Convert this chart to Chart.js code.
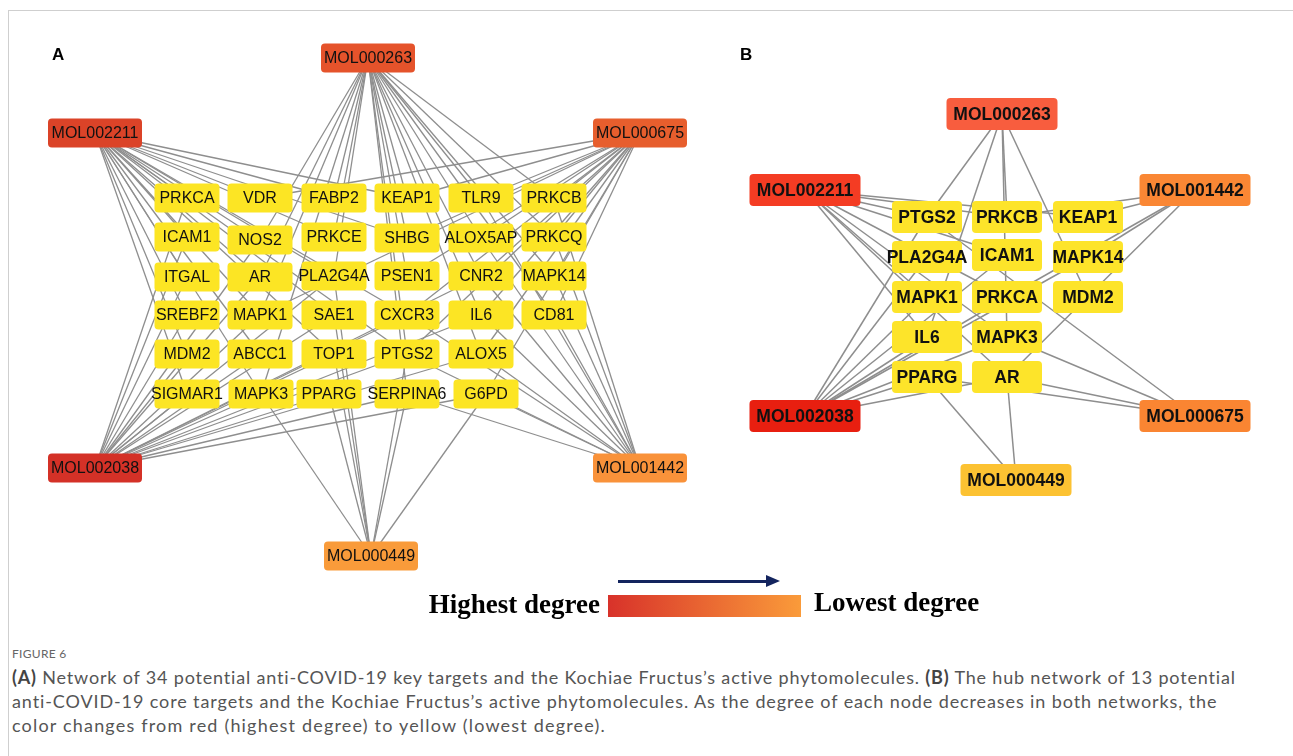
<!DOCTYPE html>
<html>
<head>
<meta charset="utf-8">
<script src="https://cdn.jsdelivr.net/npm/chart.js@4.4.0/dist/chart.umd.min.js"></script>
<style>
    body { margin: 0; background: #fff; width: 1293px; height: 756px; overflow: hidden; position: relative; font-family: "Open Sans", sans-serif; }
    #frame { position: absolute; left: 8px; top: 10px; width: 1300px; height: 760px; border-left: 1px solid #cfcfcf; border-top: 1px solid #cfcfcf; }
    #wrap { position: absolute; left: 0; top: 0; width: 1293px; height: 640px; }
    .panel { position: absolute; font: bold 17px "Liberation Sans", Arial, sans-serif; color: #000; }
    .deg { position: absolute; font: bold 27px "Liberation Serif", "Times New Roman", serif; color: #000; white-space: nowrap; }
    #bar { position: absolute; left: 608px; top: 595px; width: 193px; height: 22px; background: linear-gradient(to right, #d8322a, #fa9b3a); }
    #arrow { position: absolute; left: 618px; top: 580px; width: 150px; height: 3px; background: #13245e; }
    #arrowHead { position: absolute; left: 766px; top: 575px; width: 0; height: 0; border-top: 6.5px solid transparent; border-bottom: 6.5px solid transparent; border-left: 14px solid #13245e; }
    #figLabel { position: absolute; left: 12px; top: 646px; font: 12px Lato, sans-serif; color: #666; letter-spacing: 0.3px; }
    .cap { position: absolute; left: 12px; font: 18px Lato, sans-serif; color: #555; white-space: nowrap; }
    .cap b { color: #444; }
</style>
</head>
<body>
<div id="frame"></div>
<div id="wrap"><canvas id="net"></canvas></div>
<div class="panel" style="left:52px;top:45px;">A</div>
<div class="panel" style="left:740px;top:45px;">B</div>
<div id="arrow"></div><div id="arrowHead"></div>
<div class="deg" style="right:693px;top:589px;">Highest degree</div>
<div id="bar"></div>
<div class="deg" style="left:814px;top:587px;">Lowest degree</div>
<div id="figLabel">FIGURE 6</div>
<div class="cap" data-w="1225" style="top:666px;"><b>(A)</b> Network of 34 potential anti-COVID-19 key targets and the Kochiae Fructus’s active phytomolecules. <b>(B)</b> The hub network of 13 potential</div>
<div class="cap" data-w="1206" style="top:690px;">anti-COVID-19 core targets and the Kochiae Fructus’s active phytomolecules. As the degree of each node decreases in both networks, the</div>
<div class="cap" data-w="594" style="top:714px;">color changes from red (highest degree) to yellow (lowest degree).</div>
<script>
// network A: compounds (hubs) and their targets
const hubsA = ['MOL000263', 'MOL002211', 'MOL000675', 'MOL002038', 'MOL001442', 'MOL000449'];
const hubXA = [368, 95, 640, 95, 640, 371];
const hubYA = [58, 133, 133, 468, 468, 556];
const hubColorA = ['#e5532b', '#db4328', '#e75e2d', '#d43127', '#f9923a', '#f99b3a'];

const targetsA = [
    'PRKCA', 'VDR', 'FABP2', 'KEAP1', 'TLR9', 'PRKCB',
    'ICAM1', 'NOS2', 'PRKCE', 'SHBG', 'ALOX5AP', 'PRKCQ',
    'ITGAL', 'AR', 'PLA2G4A', 'PSEN1', 'CNR2', 'MAPK14',
    'SREBF2', 'MAPK1', 'SAE1', 'CXCR3', 'IL6', 'CD81',
    'MDM2', 'ABCC1', 'TOP1', 'PTGS2', 'ALOX5',
    'SIGMAR1', 'MAPK3', 'PPARG', 'SERPINA6', 'G6PD'
];
const targetXA = [
    187, 260, 334, 407, 481, 554,
    187, 260, 334, 407, 481, 554,
    187, 260, 334, 407, 481, 554,
    187, 260, 334, 407, 481, 554,
    187, 260, 334, 407, 481,
    187, 261, 329, 407, 486
];
const targetYA = [
    198, 198, 198, 198, 198, 198,
    237, 240, 237, 238, 238, 237,
    277, 277, 276, 276, 276, 276,
    315, 315, 315, 315, 315, 315,
    354, 354, 354, 354, 354,
    394, 394, 394, 394, 394
];
const linksA = [
    ['NOS2', 'AR', 'PLA2G4A', 'FABP2', 'PRKCE', 'SHBG', 'PSEN1', 'KEAP1', 'TLR9', 'ALOX5AP', 'CNR2', 'IL6', 'PRKCB', 'PRKCQ', 'MAPK14', 'CD81', 'ALOX5', 'MAPK1', 'PTGS2', 'SERPINA6', 'MAPK3'],
    ['PRKCA', 'VDR', 'FABP2', 'KEAP1', 'ICAM1', 'NOS2', 'PRKCE', 'SHBG', 'ITGAL', 'AR', 'PLA2G4A', 'SREBF2', 'MAPK1', 'SAE1', 'CXCR3', 'MDM2', 'ABCC1', 'PTGS2', 'SIGMAR1', 'MAPK3', 'TOP1'],
    ['VDR', 'KEAP1', 'TLR9', 'PRKCB', 'ALOX5AP', 'PRKCQ', 'CNR2', 'MAPK14', 'IL6', 'CD81', 'PSEN1', 'SHBG', 'ALOX5', 'PTGS2', 'MAPK1', 'CXCR3', 'G6PD'],
    ['SIGMAR1', 'MAPK3', 'PPARG', 'SERPINA6', 'G6PD', 'MDM2', 'ABCC1', 'TOP1', 'PTGS2', 'ALOX5', 'SREBF2', 'MAPK1', 'SAE1', 'CXCR3', 'IL6', 'ITGAL', 'AR', 'ICAM1', 'PRKCA', 'NOS2', 'PLA2G4A', 'CNR2'],
    ['SERPINA6', 'G6PD', 'ALOX5', 'CD81', 'IL6', 'MAPK14', 'PRKCQ', 'PRKCB', 'CNR2', 'PTGS2', 'CXCR3', 'ALOX5AP', 'TLR9'],
    ['MAPK3', 'PPARG', 'TOP1', 'SAE1', 'PLA2G4A', 'SERPINA6', 'PTGS2', 'G6PD']
];

// network B: hub network of 13 core targets
const hubsB = ['MOL000263', 'MOL002211', 'MOL001442', 'MOL002038', 'MOL000675', 'MOL000449'];
const hubXB = [1002, 805, 1195, 805, 1195, 1016];
const hubYB = [114, 190, 190, 416, 416, 480];
const hubColorB = ['#f85d3e', '#f43c23', '#fa8734', '#e81f10', '#fa8532', '#fcc232'];

const targetsB = ['PTGS2', 'PRKCB', 'KEAP1', 'PLA2G4A', 'ICAM1', 'MAPK14', 'MAPK1', 'PRKCA', 'MDM2', 'IL6', 'MAPK3', 'PPARG', 'AR'];
const targetXB = [927, 1007, 1088, 927, 1007, 1088, 927, 1007, 1088, 927, 1007, 927, 1007];
const targetYB = [217, 217, 217, 257, 255, 257, 297, 297, 297, 337, 337, 377, 377];
const linksB = [
    ['PTGS2', 'IL6', 'PRKCB', 'MDM2', 'MAPK3'],
    ['PRKCB', 'PTGS2', 'ICAM1', 'KEAP1', 'MAPK1', 'PRKCA', 'IL6', 'MAPK3', 'AR'],
    ['KEAP1', 'PRKCA', 'MAPK14', 'AR', 'PRKCB'],
    ['PTGS2', 'PLA2G4A', 'ICAM1', 'MAPK1', 'PRKCA', 'IL6', 'MAPK3', 'PPARG', 'AR', 'MAPK14'],
    ['PTGS2', 'MAPK3', 'AR', 'PPARG'],
    ['AR', 'PPARG']
];

function edgeSets(hubs, hx, hy, targets, tx, ty, links, width) {
    const sets = [];
    hubs.forEach((h, i) => {
        links[i].forEach(t => {
            const j = targets.indexOf(t);
            sets.push({
                type: 'line',
                data: [{ x: hx[i], y: hy[i] }, { x: tx[j], y: ty[j] }],
                borderColor: '#8e8e8e',
                borderWidth: width,
                pointRadius: 0,
                tension: 0
            });
        });
    });
    return sets;
}

function nodeSet(names, xs, ys, kind, colors) {
    return {
        type: 'scatter',
        data: names.map((n, i) => ({ x: xs[i], y: ys[i] })),
        labels: names,
        kind: kind,
        colors: colors,
        pointRadius: 0
    };
}

const datasets = [
    ...edgeSets(hubsA, hubXA, hubYA, targetsA, targetXA, targetYA, linksA, 1.3),
    ...edgeSets(hubsB, hubXB, hubYB, targetsB, targetXB, targetYB, linksB, 1.5),
    nodeSet(targetsA, targetXA, targetYA, 'geneA', null),
    nodeSet(hubsA, hubXA, hubYA, 'molA', hubColorA),
    nodeSet(targetsB, targetXB, targetYB, 'geneB', null),
    nodeSet(hubsB, hubXB, hubYB, 'molB', hubColorB)
];

const boxStyle = {
    geneA: { w: 65, h: 29, font: '16px "Liberation Sans", Arial, sans-serif', fill: '#fce524' },
    molA: { w: 94, h: 29, font: '16px "Liberation Sans", Arial, sans-serif' },
    geneB: { w: 70, h: 32, font: 'bold 17.5px "Liberation Sans", Arial, sans-serif', fill: '#fde42a' },
    molB: { w: 111, h: 32, font: 'bold 17.5px "Liberation Sans", Arial, sans-serif' }
};

// rounded boxes with labels on top of the node points
const nodeBoxes = {
    id: 'nodeBoxes',
    afterDatasetsDraw(chart) {
        const ctx = chart.ctx;
        chart.data.datasets.forEach((ds, di) => {
            if (!ds.kind) return;
            const st = boxStyle[ds.kind];
            const meta = chart.getDatasetMeta(di);
            meta.data.forEach((pt, i) => {
                const label = ds.labels[i];
                ctx.save();
                ctx.font = st.font;
                const tw = ctx.measureText(label).width;
                ctx.fillStyle = ds.colors ? ds.colors[i] : st.fill;
                ctx.beginPath();
                ctx.roundRect(pt.x - st.w / 2, pt.y - st.h / 2, st.w, st.h, 4);
                ctx.fill();
                ctx.fillStyle = '#111';
                ctx.textAlign = 'center';
                ctx.textBaseline = 'middle';
                const maxW = st.w + 14;
                if (tw > maxW) {
                    ctx.translate(pt.x, pt.y + 1);
                    ctx.scale(maxW / tw, 1);
                    ctx.fillText(label, 0, 0);
                } else {
                    ctx.fillText(label, pt.x, pt.y + 1);
                }
                ctx.restore();
            });
        });
    }
};

new Chart(document.getElementById('net').getContext('2d'), {
    data: { datasets: datasets },
    options: {
        responsive: true,
        maintainAspectRatio: false,
        animation: false,
        events: [],
        layout: { padding: 0 },
        plugins: { legend: { display: false }, tooltip: { enabled: false } },
        scales: {
            x: { type: 'linear', min: 0, max: 1293, display: false },
            y: { type: 'linear', min: 0, max: 640, reverse: true, display: false }
        }
    },
    plugins: [nodeBoxes]
});

// stretch caption lines to the widths of the printed figure
document.querySelectorAll('.cap').forEach(el => {
    const target = parseFloat(el.dataset.w);
    const w = el.getBoundingClientRect().width;
    const n = el.textContent.length;
    el.style.letterSpacing = ((target - w) / n) + 'px';
});
</script>
</body>
</html>
